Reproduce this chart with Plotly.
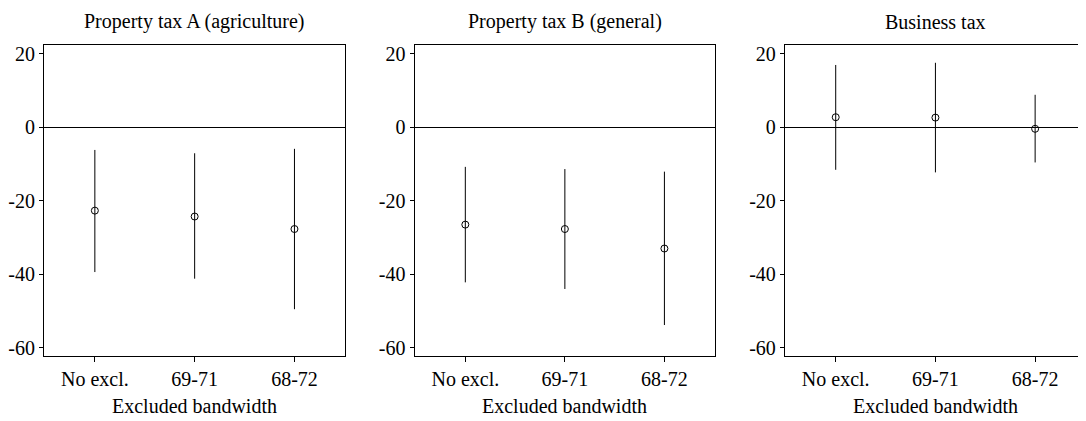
import plotly.graph_objects as go

categories = ["No excl.", "69-71", "68-72"]
panel_titles = ["Property tax A (agriculture)", "Property tax B (general)", "Business tax"]
xaxis_label = "Excluded bandwidth"

estimate_a = [-22.7, -24.3, -27.7]
lower_a = [-39.4, -41.2, -49.5]
upper_a = [-6.2, -7.1, -5.9]

estimate_b = [-26.5, -27.7, -33.0]
lower_b = [-42.2, -44.0, -53.8]
upper_b = [-10.8, -11.4, -12.1]

estimate_c = [2.7, 2.6, -0.45]
lower_c = [-11.6, -12.3, -9.6]
upper_c = [16.9, 17.5, 8.8]

y_ticks = [-60, -40, -20, 0, 20]
y_tick_labels = ["-60", "-40", "-20", "0", "20"]

panels = [(estimate_a, lower_a, upper_a),
          (estimate_b, lower_b, upper_b),
          (estimate_c, lower_c, upper_c)]

OFF = 8  # default page body margin
W, H = 1086 - OFF, 421 - OFF
FONT = "Liberation Serif"

fig = go.Figure()

x_domains_px = [(43, 345), (414.3, 715.5), (785.3, 1086)]
x_ranges = [[-0.51, 2.51], [-0.51, 2.51], [-0.51, 2.5]]
y_dom = [1 - (358 - OFF) / H, 1 - (43 - OFF) / H]
title_centers = [194, 565, 936]

for i, (est, lo, up) in enumerate(panels):
    xa = "x" if i == 0 else f"x{i+1}"
    ya = "y" if i == 0 else f"y{i+1}"
    xpos = list(range(len(categories)))
    fig.add_trace(go.Scatter(
        x=xpos, y=est, xaxis=xa, yaxis=ya, mode="markers",
        marker=dict(symbol="circle-open", size=7, color="black", line=dict(width=1, color="black")),
        error_y=dict(type="data", symmetric=False,
                     array=[u - e for u, e in zip(up, est)],
                     arrayminus=[e - l for e, l in zip(est, lo)],
                     width=0, thickness=1, color="black"),
        showlegend=False, hoverinfo="skip",
    ))
    d0, d1 = x_domains_px[i]
    suffix = "" if i == 0 else str(i + 1)
    fig.layout["xaxis" + suffix] = dict(
        domain=[(d0 - OFF) / W, min((d1 - OFF) / W, 1.0)], range=x_ranges[i], anchor=ya,
        tickvals=xpos, ticktext=categories, ticks="outside", ticklen=5,
        tickcolor="black", showline=True, linecolor="black", linewidth=1, mirror=True,
        showgrid=False, zeroline=False, tickfont=dict(family=FONT, size=20, color="black"),
    )
    fig.layout["yaxis" + suffix] = dict(
        domain=y_dom, range=[-62.2, 22.2], anchor=xa,
        tickvals=y_ticks, ticktext=y_tick_labels, ticks="outside", ticklen=4, tickcolor="black",
        showline=True, linecolor="black", linewidth=1, mirror=True,
        showgrid=False, zeroline=True, zerolinecolor="black", zerolinewidth=1,
        tickfont=dict(family=FONT, size=20, color="black"),
    )
    cx = (title_centers[i] - OFF) / W
    fig.add_annotation(text=panel_titles[i], x=cx, y=1 - (19 - OFF) / H, xref="paper", yref="paper",
                       showarrow=False, xanchor="center", yanchor="middle",
                       font=dict(family=FONT, size=20, color="black"))
    fig.add_annotation(text=xaxis_label, x=cx, y=1 - (409 - OFF) / H, xref="paper", yref="paper",
                       showarrow=False, xanchor="center", yanchor="middle",
                       font=dict(family=FONT, size=20, color="black"))

fig.update_layout(width=W, height=H, margin=dict(l=0, r=0, t=0, b=0),
                  plot_bgcolor="white", paper_bgcolor="white",
                  font=dict(family=FONT, size=20, color="black"))

fig.write_html("out.html")
